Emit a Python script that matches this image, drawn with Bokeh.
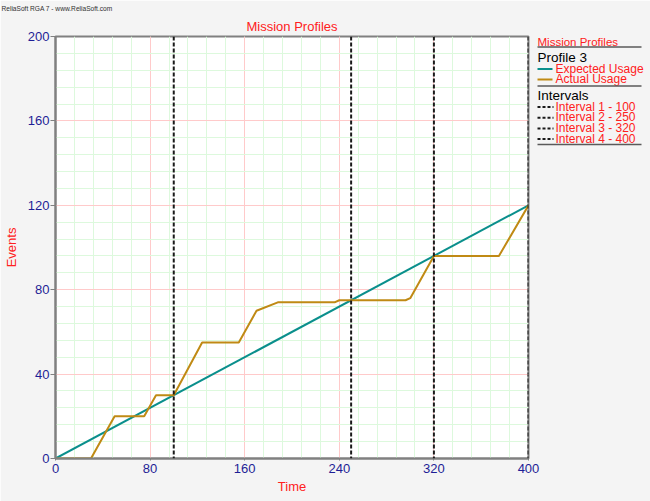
from bokeh.plotting import figure
from bokeh.layouts import row
from bokeh.models import Range1d, FixedTicker, Span, Title
from bokeh.core.properties import value
from bokeh.embed import file_html
from bokeh.resources import INLINE

# ---- data ----
expected_t = [0, 400]
expected_v = [0, 120]
actual_t = [0, 30, 50, 75, 85, 100, 124, 155, 170, 188, 236, 240, 296, 300, 320, 375, 400]
actual_v = [0, 0, 20, 20, 30, 30, 55, 55, 70, 74, 74, 75, 75, 76, 96, 96, 120]
intervals = [100, 250, 320, 400]
interval_labels = ["Interval 1 - 100", "Interval 2 - 250", "Interval 3 - 320", "Interval 4 - 400"]
series_names = ["Expected Usage", "Actual Usage"]
x_ticks = [0, 80, 160, 240, 320, 400]
y_ticks = [0, 40, 80, 120, 160, 200]

FONT = "Liberation Sans"
RED = "#ff2020"
TEAL = "#0a8f8c"
GOLD = "#c08a14"
NAVY = "#1e1e96"
GRAY = "#808080"
BG = "#f4f4f4"

W, H = 650, 501
FL, FT, FW, FH = 54, 36, 474, 422
LW = W - FL - FW          # legend panel width (right border area)

p = figure(width=W, height=H, output_backend="svg", toolbar_location=None,
           x_range=Range1d(0, 400), y_range=Range1d(0, 200),
           min_border_left=FL, min_border_top=FT,
           min_border_right=LW, min_border_bottom=H - FT - FH,
           title="ReliaSoft RGA 7 - www.ReliaSoft.com")
p.title.align = "left"
p.title.offset = -54
p.title.vertical_align = "top"
p.title.text_color = "#303030"
p.title.text_font = FONT
p.title.text_font_size = "6.6px"
p.title.text_font_style = "normal"
p.title.standoff = 0
p.add_layout(Title(text="Mission Profiles", align="center", text_font=FONT,
                   text_font_size="13px", text_font_style="normal",
                   text_color=RED, standoff=6), "above")

p.background_fill_color = "white"
p.border_fill_color = BG
p.outline_line_color = GRAY
p.outline_line_width = 2

p.xaxis.ticker = FixedTicker(ticks=x_ticks, minor_ticks=list(range(0, 401, 16)))
p.yaxis.ticker = FixedTicker(ticks=y_ticks, minor_ticks=list(range(0, 201, 8)))
for ax in (p.xaxis, p.yaxis):
    ax.axis_line_color = GRAY
    ax.axis_line_width = 2
    ax.major_label_text_font = FONT
    ax.major_label_text_font_size = "13px"
    ax.major_label_text_color = NAVY
    ax.minor_tick_line_color = None
    ax.major_tick_in = 0
    ax.major_tick_line_color = GRAY
    ax.axis_label_text_color = RED
    ax.axis_label_text_font = FONT
    ax.axis_label_text_font_size = "13px"
    ax.axis_label_text_font_style = "normal"
p.xaxis.axis_label = "Time"
p.yaxis.axis_label = "Events"
p.xaxis.major_tick_out = 2
p.xaxis.major_label_standoff = 1
p.xaxis.axis_label_standoff = 3
p.yaxis.major_tick_out = 5
p.yaxis.major_label_standoff = 1
p.yaxis.axis_label_standoff = 6

for g in (p.xgrid, p.ygrid):
    g.grid_line_color = "#ffcaca"
    g.minor_grid_line_color = "#ddf9dd"
    g.grid_line_width = 1
    g.minor_grid_line_width = 1

p.line(expected_t, expected_v, line_color=TEAL, line_width=2)
p.line(actual_t, actual_v, line_color=GOLD, line_width=2)

for iv in intervals:
    p.add_layout(Span(location=iv, dimension="height", line_color="#1a1a1a",
                      line_width=2, line_dash="4 2"))

# ---- legend panel, overlaid transparently on the right border area ----
LX0 = FL + FW
lg = figure(width=LW, height=H, output_backend="svg", toolbar_location=None,
            x_range=Range1d(LX0, W), y_range=Range1d(FT + FH, FT),
            x_axis_type=None, y_axis_type=None,
            min_border_left=0, min_border_right=0,
            min_border_top=FT, min_border_bottom=H - FT - FH)
lg.grid.visible = False
lg.outline_line_color = None
lg.background_fill_color = None
lg.border_fill_color = None
lg.margin = (0, 0, 0, -LW)

LX = 537
RX = 641
def txt(x, y, s, color, size):
    lg.text(x=[x], y=[y], text=[s], text_align="left", text_baseline="middle",
            text_color=color, text_font=value(FONT), text_font_size=size)

def sep(y):
    lg.segment(x0=[LX], y0=[y], x1=[RX], y1=[y], line_color="#5a5a5a", line_width=1.5)

txt(LX, 41, "Mission Profiles", RED, "11.5px")
sep(46.5)
txt(LX, 57, "Profile 3", "black", "13.5px")
for k, (col, name) in enumerate(zip([TEAL, GOLD], series_names)):
    y = 68.5 + k * 10.5
    lg.segment(x0=[LX], y0=[y], x1=[552], y1=[y], line_color=col, line_width=2)
    txt(555, y - 0.5, name, RED, "12px")
sep(85.5)
txt(LX, 94.5, "Intervals", "black", "13.5px")
for k, lab in enumerate(interval_labels):
    y = 106.5 + k * 10.7
    lg.segment(x0=[LX], y0=[y], x1=[553], y1=[y], line_color="#1a1a1a",
               line_width=2, line_dash="3 2")
    txt(555, y - 0.5, lab, RED, "12px")
sep(144)

layout = row(p, lg, spacing=0)
open("out.html", "w").write(file_html(layout, INLINE))
